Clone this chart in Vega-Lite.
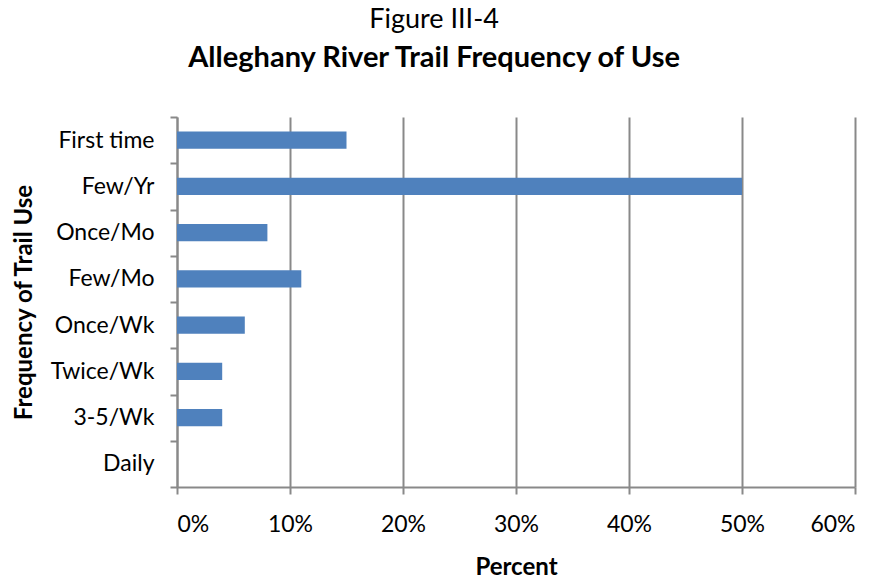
{
  "$schema": "https://vega.github.io/schema/vega-lite/v6.json",
  "width": 678,
  "height": 370,
  "autosize": {"type": "none"},
  "padding": {"left": 177, "top": 117, "right": 33, "bottom": 92},
  "background": "white",
  "config": {
    "font": "Lato",
    "view": {"stroke": null}
  },
  "title": {
    "text": "Figure III-4",
    "subtitle": "Alleghany River Trail Frequency of Use",
    "anchor": "middle",
    "frame": "bounds",
    "font": "Lato",
    "fontSize": 27,
    "fontWeight": "normal",
    "color": "black",
    "subtitleFont": "Lato",
    "subtitleFontSize": 29,
    "subtitleFontWeight": "bold",
    "subtitleColor": "black",
    "subtitlePadding": 10,
    "offset": 32
  },
  "data": {
    "values": [
      {"freq": "First time", "pct": 0.15},
      {"freq": "Few/Yr", "pct": 0.50},
      {"freq": "Once/Mo", "pct": 0.08},
      {"freq": "Few/Mo", "pct": 0.11},
      {"freq": "Once/Wk", "pct": 0.06},
      {"freq": "Twice/Wk", "pct": 0.04},
      {"freq": "3-5/Wk", "pct": 0.04},
      {"freq": "Daily", "pct": 0.0}
    ]
  },
  "mark": {"type": "bar", "color": "#4F81BD", "height": {"band": 0.37}},
  "encoding": {
    "y": {
      "field": "freq",
      "type": "nominal",
      "sort": null,
      "scale": {"paddingInner": 0, "paddingOuter": 0},
      "axis": {
        "title": "Frequency of Trail Use",
        "titleFontSize": 24,
        "titleFontWeight": "bold",
        "titleColor": "black",
        "titlePadding": 14,
        "labelFontSize": 23,
        "labelColor": "black",
        "labelPadding": 16,
        "tickBand": "extent",
        "tickSize": 7,
        "tickColor": "#898989",
        "tickWidth": 2,
        "domainColor": "#898989",
        "domainWidth": 2,
        "grid": false
      }
    },
    "x": {
      "field": "pct",
      "type": "quantitative",
      "scale": {"domain": [0, 0.6], "nice": false},
      "axis": {
        "title": "Percent",
        "titleFontSize": 24,
        "titleFontWeight": "bold",
        "titleColor": "black",
        "titlePadding": 19,
        "format": ".0%",
        "values": [0, 0.1, 0.2, 0.3, 0.4, 0.5, 0.6],
        "labelFontSize": 23,
        "labelColor": "black",
        "labelPadding": 19,
        "tickSize": 7,
        "tickColor": "#898989",
        "tickWidth": 2,
        "domainColor": "#898989",
        "domainWidth": 2,
        "grid": true,
        "gridColor": "#898989",
        "gridWidth": 2
      }
    }
  }
}
